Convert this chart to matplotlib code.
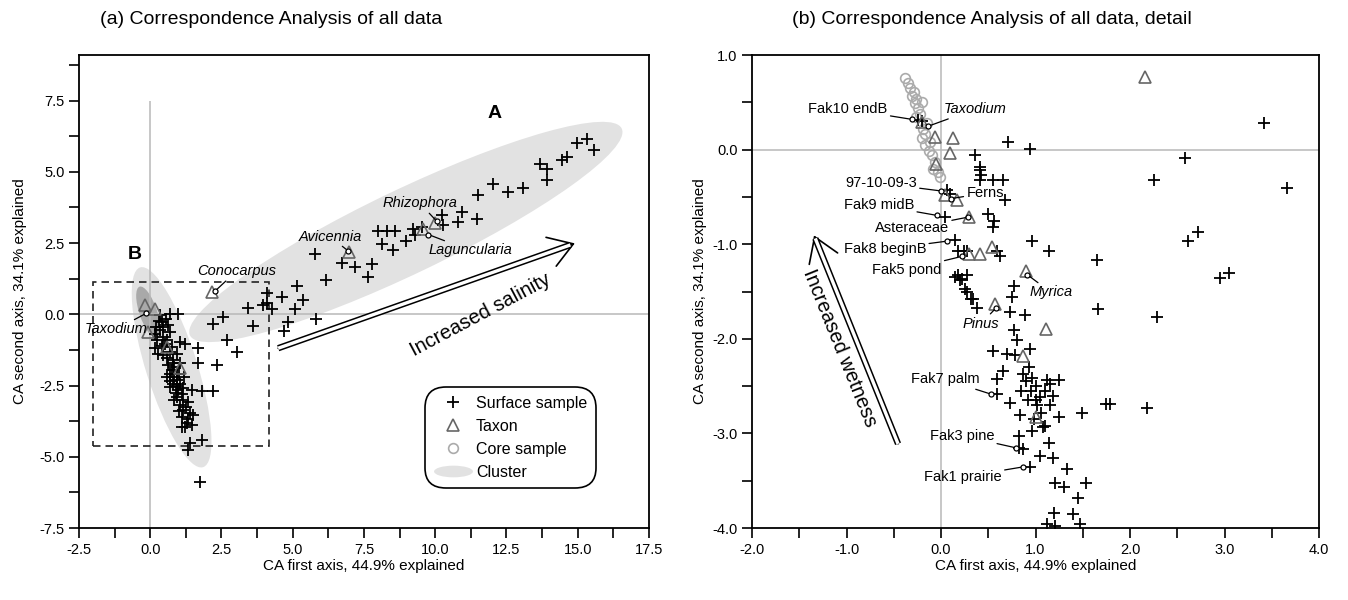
import matplotlib
matplotlib.use('Agg')
import matplotlib.pyplot as plt
from matplotlib.patches import Ellipse, Rectangle
from matplotlib.lines import Line2D
from matplotlib.path import Path
from matplotlib.transforms import Affine2D
from matplotlib.ticker import MultipleLocator, FormatStrFormatter

plt.rcParams['font.family'] = ['Liberation Sans', 'DejaVu Sans']
plt.rcParams['axes.unicode_minus'] = False

# --- panel (a): all data ---
a_surf_x = [15.31, 14.96, 15.57, 14.61, 14.44, 13.68, 13.91, 13.93, 13.09, 12.56,
            12.04, 11.51, 11.45, 10.93, 10.81, 10.23, 10.28, 9.52, 9.23, 9.29,
            8.97, 8.59, 8.30, 8.00, 8.12, 8.53, 7.77, 7.18, 7.65, 6.72,
            5.78, 6.17, 5.14, 4.11, 4.61, 5.37, 4.09, 3.97, 3.44, 4.26,
            5.08, 5.80, 4.84, 4.70, 3.61, 2.56, 2.21, 2.68, 3.03, 1.69,
            1.69, 2.33, 2.21, 1.80, 1.75,
            0.34, 0.69, 0.98, 0.40, 0.46, 0.63, 0.69, 0.46, 0.17, 0.23,
            0.58, 1.04, 1.22, 0.17, 0.28, 0.46, 0.69, 0.93, 0.81, 0.63,
            0.75, 0.93, 0.58, 0.93, 1.04, 0.69, 0.98, 1.16, 1.45, 0.93,
            1.16, 1.04, 1.34, 1.16, 1.39, 1.51, 1.34, 1.10, 1.22, 1.45,
            1.80, 1.39, 1.34, 0.35, 0.52, 0.75, 0.40, 0.85, 0.70, 0.85,
            0.80, 0.90, 1.10, 0.85, 1.00, 1.25, 0.30, 0.55, 0.20, 0.60,
            1.05, 0.70, 1.20, 1.00, 1.10, 1.30, 0.95, 0.80]
a_surf_y = [6.16, 6.00, 5.75, 5.51, 5.40, 5.26, 5.11, 4.72, 4.44, 4.29,
            4.56, 4.17, 3.35, 3.59, 3.24, 3.47, 3.15, 3.06, 3.00, 2.77,
            2.59, 2.94, 2.94, 2.94, 2.45, 2.24, 1.78, 1.66, 1.31, 1.79,
            2.13, 1.22, 0.98, 0.75, 0.61, 0.49, 0.40, 0.32, 0.22, 0.20,
            0.20, -0.16, -0.27, -0.60, -0.42, -0.09, -0.33, -0.91, -1.32, -1.20,
            -1.71, -1.79, -2.69, -2.69, -5.88,
            -0.04, 0.02, 0.02, -0.27, -0.45, -0.39, -0.62, -0.80, -0.68, -0.91,
            -0.91, -0.97, -1.03, -1.20, -1.38, -1.44, -1.32, -1.38, -1.61, -1.79,
            -1.96, -2.08, -2.20, -2.31, -2.43, -2.55, -2.66, -2.60, -2.66, -2.90,
            -3.01, -3.19, -3.07, -3.36, -3.48, -3.54, -3.66, -3.95, -3.95, -3.89,
            -4.42, -4.53, -4.77, -0.55, -1.05, -1.15, -1.10, -1.85, -2.35, -2.20,
            -2.45, -2.75, -2.80, -3.00, -3.40, -3.25, -0.25, -0.15, -0.45, -1.55,
            -1.70, -2.10, -2.20, -2.10, -3.60, -3.80, -2.50, -1.70]
a_taxon_x = [-0.18, 0.17, -0.07, 1.04, 0.58, 2.16, 6.98, 10.0, 9.57]
a_taxon_y = [0.32, 0.20, -0.62, -1.90, -1.15, 0.78, 2.20, 3.20, 3.00]
a_names = ['Conocarpus', 'Avicennia', 'Rhizophora', 'Laguncularia', 'Taxodium']
a_name_x = [2.27, 6.95, 10.05, 9.76, -0.15]
a_name_y = [0.81, 2.22, 3.27, 2.80, 0.03]
a_text_x = [3.02, 6.31, 9.47, 11.22, -1.20]
a_text_y = [1.51, 2.73, 3.89, 2.24, -0.53]

# --- panel (b): detail ---
b_surf_x = [-0.24, -0.20, 0.71, 0.94, 0.36, 0.41, 0.41, 0.42, 0.41, 0.55,
            0.66, 0.68, 0.06, 0.09, 0.04, 0.50, 0.56, 0.55, 0.15, 0.18,
            0.27, 0.59, 0.62, 0.96, 1.14, 1.65, 0.15, 0.20, 0.27, 0.27,
            0.34, 0.38, 0.77, 0.75, 0.73, 0.89, 0.77, 0.80, 1.66, 0.55,
            0.70, 0.78, 0.94, 0.66, 0.59, 0.59, 0.73, 0.84, 0.82, 0.82,
            0.87, 0.94, 1.05, 0.96, 1.14, 1.19, 1.33, 1.21, 1.30, 1.53,
            1.45, 1.20, 1.40, 1.12, 1.21, 1.47, 1.49, 1.25, 1.25, 1.12,
            1.15, 1.19, 0.96, 1.10, 1.08, 0.90, 0.95, 1.00, 1.05, 1.02,
            0.92, 1.06, 0.98, 1.10, 0.87, 0.93, 1.00, 1.15, 0.85, 0.18,
            0.22, 0.25, 0.32, 0.24, 3.42, 2.58, 2.25, 3.66, 2.72, 2.61,
            3.05, 2.95, 2.29, 1.79, 1.75, 2.18]
b_surf_y = [0.31, 0.30, 0.08, 0.01, -0.06, -0.18, -0.22, -0.27, -0.32, -0.32,
            -0.32, -0.53, -0.43, -0.47, -0.71, -0.68, -0.75, -0.82, -0.96, -1.07,
            -1.07, -1.07, -1.12, -0.97, -1.07, -1.17, -1.35, -1.38, -1.33, -1.51,
            -1.58, -1.67, -1.44, -1.56, -1.72, -1.75, -1.91, -2.01, -1.69, -2.13,
            -2.16, -2.17, -2.11, -2.34, -2.43, -2.58, -2.68, -2.81, -3.03, -3.15,
            -3.17, -3.36, -3.24, -2.97, -3.10, -3.26, -3.38, -3.52, -3.57, -3.52,
            -3.68, -3.84, -3.85, -3.96, -3.98, -3.96, -2.78, -2.83, -2.44, -2.44,
            -2.48, -2.60, -2.41, -2.92, -2.93, -2.45, -2.55, -2.50, -2.62, -2.70,
            -2.65, -2.78, -2.85, -2.55, -2.37, -2.30, -2.65, -2.70, -2.55, -1.33,
            -1.37, -1.47, -1.58, -1.07, 0.28, -0.09, -0.32, -0.41, -0.87, -0.97,
            -1.30, -1.36, -1.77, -2.69, -2.69, -2.73]
b_taxon_x = [2.16, -0.06, 0.13, 0.09, -0.05, 0.04, 0.17, 0.30, 0.30, 0.41,
             0.54, 0.90, 0.57, 1.11, 0.87, 1.01, -0.20]
b_taxon_y = [0.77, 0.13, 0.12, -0.04, -0.15, -0.48, -0.53, -0.71, -1.10, -1.10,
             -1.03, -1.28, -1.63, -1.90, -2.18, -2.83, 0.29]
b_core_x = [-0.38, -0.35, -0.33, -0.29, -0.31, -0.26, -0.28, -0.20, -0.24, -0.22,
            -0.26, -0.19, -0.17, -0.20, -0.17, -0.13, -0.10, -0.06, -0.08, -0.03,
            -0.01, -0.12, -0.15]
b_core_y = [0.76, 0.70, 0.65, 0.61, 0.57, 0.54, 0.49, 0.50, 0.44, 0.38,
            0.35, 0.22, 0.17, 0.12, 0.05, -0.01, -0.06, -0.13, -0.20, -0.24,
            -0.29, 0.08, 0.28]
b_names = ['Fak10 endB', 'Taxodium', '97-10-09-3', 'Ferns', 'Fak9 midB', 'Asteraceae',
           'Fak8 beginB', 'Fak5 pond', 'Myrica', 'Pinus', 'Fak7 palm', 'Fak3 pine',
           'Fak1 prairie']
b_italic = [False, True, False, False, False, False, False, False, True, True,
            False, False, False]
b_name_x = [-0.31, -0.134, 0.0, 0.106, -0.046, 0.289, 0.067, 0.219, 0.914, 0.579,
            0.526, 0.79, 0.868]
b_name_y = [0.32, 0.248, -0.437, -0.518, -0.695, -0.713, -0.967, -1.129, -1.323, -1.677,
            -2.584, -3.152, -3.354]
b_text_x = [-0.984, 0.36, -0.635, 0.466, -0.656, -0.307, -0.593, -0.36, 1.164, 0.423,
            0.042, 0.222, 0.233]
b_text_y = [0.428, 0.428, -0.356, -0.46, -0.587, -0.831, -1.054, -1.27, -1.51, -1.84,
            -2.43, -3.025, -3.46]

GRID = '#b8b8b8'
TAXON = '#666666'
CORE = '#ababab'
CLUSTER = '#e2e2e2'


def style_axes(ax, major, minor, ylabelpad):
    ax.xaxis.set_major_locator(MultipleLocator(major[0]))
    ax.xaxis.set_minor_locator(MultipleLocator(minor[0]))
    ax.yaxis.set_major_locator(MultipleLocator(major[1]))
    ax.yaxis.set_minor_locator(MultipleLocator(minor[1]))
    ax.xaxis.set_major_formatter(FormatStrFormatter('%.1f'))
    ax.yaxis.set_major_formatter(FormatStrFormatter('%.1f'))
    ax.tick_params(which='both', direction='out', length=7, width=1.2, labelsize=10.5)
    for s in ax.spines.values():
        s.set_linewidth(1.3)
    ax.set_xlabel('CA first axis, 44.9% explained', fontsize=11, labelpad=2)
    ax.set_ylabel('CA second axis, 34.1% explained', fontsize=11, labelpad=ylabelpad)


def double_arrow(ax, start, tip, text, text_xy, rot):
    ax.annotate('', xy=tip, xytext=start,
                arrowprops=dict(arrowstyle='->,head_length=0.85,head_width=0.55',
                                lw=1.2, color='black', shrinkA=0, shrinkB=0,
                                mutation_scale=20), zorder=6)
    ex = start[0] + 0.985 * (tip[0] - start[0])
    ey = start[1] + 0.985 * (tip[1] - start[1])
    ax.plot([start[0], ex], [start[1], ey], color='black', lw=4.6,
            solid_capstyle='butt', zorder=7)
    ax.plot([start[0], ex], [start[1], ey], color='white', lw=2.4,
            solid_capstyle='butt', zorder=8)
    ax.text(text_xy[0], text_xy[1], text, rotation=rot, rotation_mode='anchor',
            ha='center', va='center', fontsize=14.5, zorder=8)


def label_points(ax, names, px, py, tx, ty, italic):
    for n, x, y, a, b, it in zip(names, px, py, tx, ty, italic):
        ax.annotate(n, xy=(x, y), xytext=(a, b), ha='center', va='center',
                    fontsize=10.5, style='italic' if it else 'normal',
                    arrowprops=dict(arrowstyle='-', lw=0.9, color='black',
                                    shrinkA=0, shrinkB=0), zorder=9)
        ax.plot(x, y, 'o', mfc='white', mec='black', ms=3.6, mew=0.9, zorder=10)


fig = plt.figure(figsize=(13.48, 6), dpi=100)
ax1 = fig.add_axes([0.0586, 0.12, 0.4228, 0.7883])
ax2 = fig.add_axes([0.5579, 0.12, 0.4206, 0.7883])

# ---------------- panel (a) ----------------
ax1.set_xlim(-2.5, 17.5)
ax1.set_ylim(-7.5, 9.1)
ax1.add_patch(Ellipse((8.97, 2.89), 16.8, 2.95, angle=25.6, fc=CLUSTER, ec='none', zorder=0))
ax1.add_patch(Ellipse((0.75, -1.86), 7.35, 1.8, angle=107.5, fc=CLUSTER, ec='none', zorder=0))
ax1.add_patch(Ellipse((-0.07, 0.07), 1.9, 0.62, angle=108.7, fc='#a9a9a9', ec='none', zorder=1))
ax1.axhline(0, color=GRID, lw=1.1, zorder=1)
ax1.vlines(0, -7.5, 7.5, color=GRID, lw=1.1, zorder=1)
ax1.add_patch(Rectangle((-2.0, -4.63), 6.17, 5.76, fill=False, ec='#222222', lw=1.2,
                        ls=(0, (4.5, 3)), zorder=2))
ax1.plot(a_surf_x, a_surf_y, '+', color='black', ms=8.5, mew=1.3, zorder=4)
ax1.plot(a_taxon_x, a_taxon_y, '^', mfc='none', mec=TAXON, ms=9, mew=1.2, zorder=5)
label_points(ax1, a_names, a_name_x, a_name_y, a_text_x, a_text_y, [True] * 5)
ax1.text(12.1, 7.05, 'A', fontsize=14, fontweight='bold', ha='center', va='center')
ax1.text(-0.53, 2.1, 'B', fontsize=14, fontweight='bold', ha='center', va='center')
double_arrow(ax1, (4.49, -1.19), (14.9, 2.49), 'Increased salinity', (11.6, -0.04), 28)
style_axes(ax1, (2.5, 2.5), (1.25, 1.25), 9)
fig.text(0.201, 0.968, '(a) Correspondence Analysis of all data', fontsize=14,
         ha='center', va='center')

ell = Path.unit_circle().transformed(Affine2D().scale(1.0, 0.3))
handles = [Line2D([], [], ls='none', marker='+', color='black', ms=8.5, mew=1.3),
           Line2D([], [], ls='none', marker='^', mfc='none', mec=TAXON, ms=9, mew=1.2),
           Line2D([], [], ls='none', marker='o', mfc='none', mec=CORE, ms=7, mew=1.2),
           Line2D([], [], ls='none', marker=ell, mfc=CLUSTER, mec='none', ms=28)]
leg = ax1.legend(handles, ['Surface sample', 'Taxon', 'Core sample', 'Cluster'],
                 loc='center', bbox_to_anchor=(0.757, 0.191), fontsize=11.5,
                 handlelength=2.4, handletextpad=0.25, labelspacing=0.5,
                 borderpad=0.55, borderaxespad=0, fancybox=True, framealpha=1)
fr = leg.get_frame()
fr.set_edgecolor('black')
fr.set_linewidth(1.2)
fr.set_boxstyle('round', pad=0, rounding_size=1.3)

# ---------------- panel (b) ----------------
ax2.set_xlim(-2.0, 4.0)
ax2.set_ylim(-4.0, 1.0)
ax2.axhline(0, color=GRID, lw=1.1, zorder=1)
ax2.axvline(0, color=GRID, lw=1.1, zorder=1)
ax2.plot(b_core_x, b_core_y, 'o', mfc='none', mec=CORE, ms=7, mew=1.2, zorder=3)
ax2.plot(b_surf_x, b_surf_y, '+', color='black', ms=8.5, mew=1.3, zorder=4)
ax2.plot(b_taxon_x, b_taxon_y, '^', mfc='none', mec=TAXON, ms=9, mew=1.2, zorder=5)
label_points(ax2, b_names, b_name_x, b_name_y, b_text_x, b_text_y, b_italic)
double_arrow(ax2, (-0.455, -3.11), (-1.344, -0.906), 'Increased wetness', (-1.069, -2.10), -68)
style_axes(ax2, (1.0, 1.0), (0.5, 0.5), 4)
fig.text(0.736, 0.968, '(b) Correspondence Analysis of all data, detail', fontsize=14,
         ha='center', va='center')

fig.savefig('out.png', dpi=100)
